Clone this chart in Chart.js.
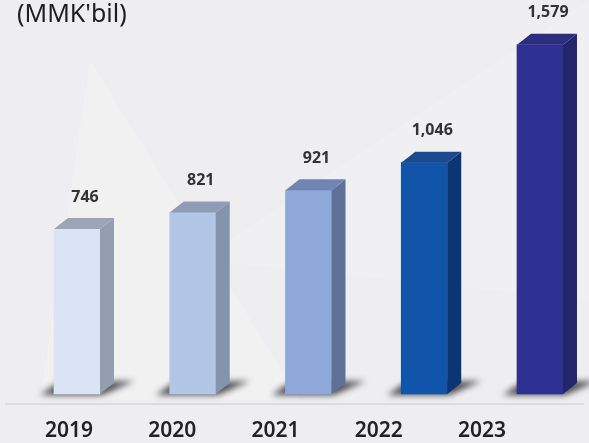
<!DOCTYPE html>
<html>
<head>
<meta charset="utf-8">
<script src="https://cdn.jsdelivr.net/npm/chart.js@4.4.1/dist/chart.umd.min.js"></script>
<style>
  html, body { margin: 0; padding: 0; background: #eeeef0; }
  #wrap { width: 589px; height: 443px; }
</style>
</head>
<body>
<div id="wrap"><canvas id="revenue"></canvas></div>
<script>
var years = ['2019', '2020', '2021', '2022', '2023'];
var revenue = [746, 821, 921, 1046, 1579];

var frontColors = ['#dae4f4', '#b3c6e6', '#8fa8da', '#1155aa', '#2e3192'];
var sideColors = ['#959eae', '#8593ad', '#5f7198', '#0d3574', '#24266a'];
var topColors = ['#9ca5b5', '#8e9cb6', '#7085b0', '#1a4a90', '#2b2e7e'];

var DX = 14, DY = 11;

// background, floor line and the shadows under each block
var floorPlugin = {
    id: 'floor',
    beforeDraw: function (chart) {
        var ctx = chart.ctx;
        ctx.save();
        ctx.fillStyle = '#eeeef0';
        ctx.fillRect(0, 0, chart.width, chart.height);
        ctx.fillStyle = 'rgba(255,255,255,0.18)';
        ctx.beginPath();
        ctx.moveTo(90, 60); ctx.lineTo(40, 400); ctx.lineTo(300, 400); ctx.closePath();
        ctx.fill();
        ctx.fillStyle = 'rgba(255,255,255,0.14)';
        ctx.beginPath();
        ctx.moveTo(589, 0); ctx.lineTo(200, 260); ctx.lineTo(589, 300); ctx.closePath();
        ctx.fill();
        ctx.restore();
    },
    beforeDatasetsDraw: function (chart) {
        var ctx = chart.ctx;
        var base = chart.scales.y.getPixelForValue(0);
        ctx.save();
        ctx.strokeStyle = '#dcdcdc';
        ctx.lineWidth = 2;
        ctx.beginPath();
        ctx.moveTo(5, base + 10);
        ctx.lineTo(584, base + 10);
        ctx.stroke();

        ctx.filter = 'blur(3px)';
        ctx.fillStyle = 'rgba(20,20,25,0.75)';
        chart.getDatasetMeta(0).data.forEach(function (bar) {
            var l = bar.x - bar.width / 2, r = bar.x + bar.width / 2;
            ctx.beginPath();
            ctx.moveTo(l - 14, base + 1);
            ctx.lineTo(l + 4, base - 11);
            ctx.lineTo(r + DX + 20, base - 13);
            ctx.lineTo(r + 2, base + 1);
            ctx.closePath();
            ctx.fill();
        });
        ctx.restore();
    },
    afterDatasetsDraw: function (chart) {
        var ctx = chart.ctx;
        ctx.save();
        chart.getDatasetMeta(0).data.forEach(function (bar, i) {
            var l = bar.x - bar.width / 2, r = bar.x + bar.width / 2;
            // side face
            ctx.fillStyle = sideColors[i];
            ctx.beginPath();
            ctx.moveTo(r, bar.y);
            ctx.lineTo(r + DX, bar.y - DY);
            ctx.lineTo(r + DX, bar.base - DY);
            ctx.lineTo(r, bar.base);
            ctx.closePath();
            ctx.fill();
            // top face
            ctx.fillStyle = topColors[i];
            ctx.beginPath();
            ctx.moveTo(l, bar.y);
            ctx.lineTo(l + DX, bar.y - DY);
            ctx.lineTo(r + DX, bar.y - DY);
            ctx.lineTo(r, bar.y);
            ctx.closePath();
            ctx.fill();
            // value label
            ctx.fillStyle = '#333333';
            ctx.font = 'bold 16px "Noto Sans"';
            ctx.textAlign = 'center';
            ctx.textBaseline = 'middle';
            ctx.fillText(revenue[i].toLocaleString('en-US'), bar.x + 8, bar.y - DY - 21);
        });
        ctx.restore();
    }
};

var ctx = document.getElementById('revenue');
var chart = new Chart(ctx, {
    type: 'bar',
    data: {
        labels: years,
        datasets: [{
            data: revenue.map(function (v, i) { return { x: i, y: v }; }),
            backgroundColor: frontColors,
            barThickness: 46,
            xAxisID: 'xb',
            clip: false
        }]
    },
    options: {
        responsive: true,
        maintainAspectRatio: false,
        animation: false,
        layout: { padding: { left: 17, right: 107, top: 0, bottom: 0 } },
        plugins: {
            legend: { display: false },
            tooltip: { enabled: false },
            title: {
                display: true,
                text: "(MMK'bil)",
                align: 'start',
                color: '#1e1e1e',
                font: { family: 'Noto Sans', size: 25, weight: 'normal', lineHeight: 1.2 },
                padding: { top: 0, bottom: 7 }
            }
        },
        scales: {
            x: {
                type: 'category',
                labels: years,
                offset: false,
                grid: { display: false, drawTicks: false },
                border: { display: false },
                ticks: {
                    color: '#222222',
                    padding: 27,
                    maxRotation: 0,
                    font: { family: 'Noto Sans', size: 21, weight: '600', lineHeight: 1 }
                },
                afterFit: function (scale) {
                    scale.height = 49;
                    scale.paddingLeft = 0;
                    scale.paddingRight = 0;
                }
            },
            xb: {
                type: 'linear',
                display: false,
                offset: false,
                grid: { offset: false },
                min: -0.069,
                max: 3.499
            },
            y: {
                min: 0,
                max: 1614,
                grid: { display: false },
                border: { display: false },
                ticks: { display: false },
                afterFit: function (scale) { scale.width = 52; }
            }
        }
    },
    plugins: [floorPlugin]
});
</script>
</body>
</html>
